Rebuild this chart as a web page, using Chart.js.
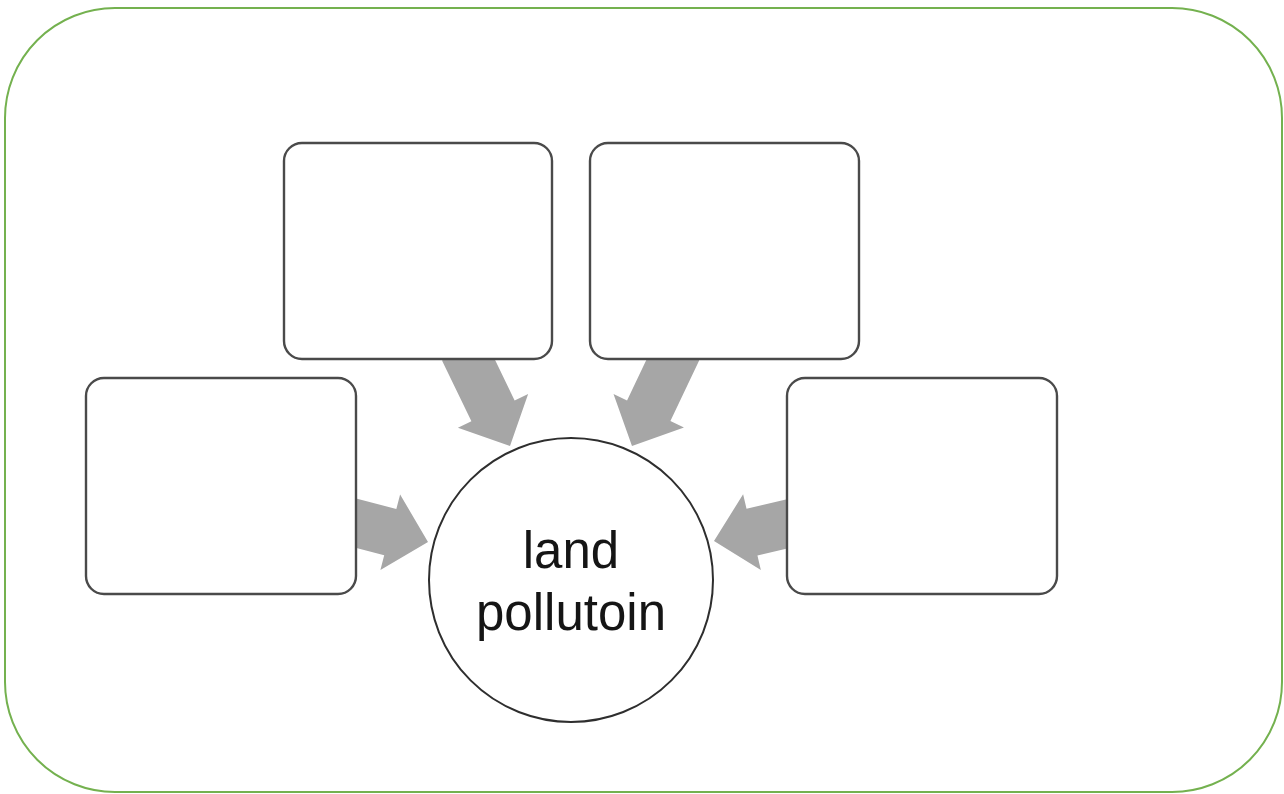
<!DOCTYPE html>
<html>
<head>
<meta charset="utf-8">
<script src="https://cdn.jsdelivr.net/npm/chart.js@4/dist/chart.umd.min.js"></script>
<style>
  html, body { margin: 0; padding: 0; background: #ffffff; }
  #wrap { width: 1284px; height: 794px; }
</style>
</head>
<body>
<div id="wrap"><canvas id="c" width="1284" height="794"></canvas></div>
<script>
// ---- Diagram data (in diagram units, 1 unit = 1 px of the 1284x794 frame) ----
const frameX = [5, 1282];
const frameY = [8, 792];

const boxNames  = ['top-left', 'top-right', 'left', 'right'];
const boxLeft   = [284, 590, 86, 787];
const boxRight  = [552, 859, 356, 1057];
const boxTop    = [143, 143, 378, 378];
const boxBottom = [359, 359, 594, 594];

const arrowTailX = [463.6, 677.6, 345.3, 796.7];
const arrowTailY = [350, 350, 520.4, 521.7];
const arrowTipX  = [510, 632, 428, 714];
const arrowTipY  = [446, 446, 542, 541];

const hubX = [571];
const hubY = [580];
const hubR = [142];
const hubLabel = ['land', 'pollutoin'];

// ---- Drawing helpers ----
function roundRectPath(ctx, x0, y0, x1, y1, r) {
  ctx.beginPath();
  ctx.moveTo(x0 + r, y0);
  ctx.lineTo(x1 - r, y0);
  ctx.arcTo(x1, y0, x1, y0 + r, r);
  ctx.lineTo(x1, y1 - r);
  ctx.arcTo(x1, y1, x1 - r, y1, r);
  ctx.lineTo(x0 + r, y1);
  ctx.arcTo(x0, y1, x0, y1 - r, r);
  ctx.lineTo(x0, y0 + r);
  ctx.arcTo(x0, y0, x0 + r, y0, r);
  ctx.closePath();
}

function arrowPath(ctx, tx, ty, hx, hy, shaftW, headW, headL) {
  const dx = hx - tx, dy = hy - ty;
  const len = Math.hypot(dx, dy);
  const ux = dx / len, uy = dy / len;
  const nx = -uy, ny = ux;
  const bx = hx - ux * headL, by = hy - uy * headL;
  const s = shaftW / 2, h = headW / 2;
  ctx.beginPath();
  ctx.moveTo(tx + nx * s, ty + ny * s);
  ctx.lineTo(bx + nx * s, by + ny * s);
  ctx.lineTo(bx + nx * h, by + ny * h);
  ctx.lineTo(hx, hy);
  ctx.lineTo(bx - nx * h, by - ny * h);
  ctx.lineTo(bx - nx * s, by - ny * s);
  ctx.lineTo(tx - nx * s, ty - ny * s);
  ctx.closePath();
}

const diagramPlugin = {
  id: 'diagram',
  beforeDatasetsDraw(chart) {
    const ctx = chart.ctx;
    const sx = chart.scales.x, sy = chart.scales.y;
    const X = v => sx.getPixelForValue(v);
    const Y = v => sy.getPixelForValue(v);
    ctx.save();
    // outer frame
    roundRectPath(ctx, X(frameX[0]), Y(frameY[0]), X(frameX[1]), Y(frameY[1]), 110);
    ctx.lineWidth = 2;
    ctx.strokeStyle = '#74b14f';
    ctx.stroke();
    // arrows
    ctx.fillStyle = '#a6a6a6';
    for (let i = 0; i < arrowTipX.length; i++) {
      arrowPath(ctx, X(arrowTailX[i]), Y(arrowTailY[i]), X(arrowTipX[i]), Y(arrowTipY[i]), 48, 78, 39);
      ctx.fill();
    }
    ctx.restore();
  },
  afterDatasetsDraw(chart) {
    const ctx = chart.ctx;
    const sx = chart.scales.x, sy = chart.scales.y;
    const X = v => sx.getPixelForValue(v);
    const Y = v => sy.getPixelForValue(v);
    ctx.save();
    // boxes
    for (let i = 0; i < boxNames.length; i++) {
      roundRectPath(ctx, X(boxLeft[i]), Y(boxTop[i]), X(boxRight[i]), Y(boxBottom[i]), 18);
      ctx.fillStyle = '#ffffff';
      ctx.fill();
      ctx.lineWidth = 2.4;
      ctx.strokeStyle = '#4a4a4a';
      ctx.stroke();
    }
    // hub label
    ctx.fillStyle = '#151515';
    ctx.font = '51px "Liberation Sans", Arial, sans-serif';
    ctx.textAlign = 'center';
    ctx.textBaseline = 'alphabetic';
    ctx.fillText(hubLabel[0], X(hubX[0]), Y(hubY[0]) - 12);
    ctx.fillText(hubLabel[1], X(hubX[0]), Y(hubY[0]) + 50);
    ctx.restore();
  }
};

new Chart(document.getElementById('c'), {
  type: 'bubble',
  data: {
    datasets: [{
      label: 'hub',
      data: hubX.map((x, i) => ({ x: x, y: hubY[i], r: hubR[i] })),
      backgroundColor: '#ffffff',
      borderColor: '#2e2e2e',
      borderWidth: 2,
      hoverRadius: 0,
      clip: false
    }]
  },
  options: {
    responsive: false,
    animation: false,
    events: [],
    layout: { padding: 0, autoPadding: false },
    plugins: { legend: { display: false }, tooltip: { enabled: false } },
    scales: {
      x: { type: 'linear', display: false, min: 0, max: 1284 },
      y: { type: 'linear', display: false, min: 0, max: 794, reverse: true }
    }
  },
  plugins: [diagramPlugin]
});
</script>
</body>
</html>
